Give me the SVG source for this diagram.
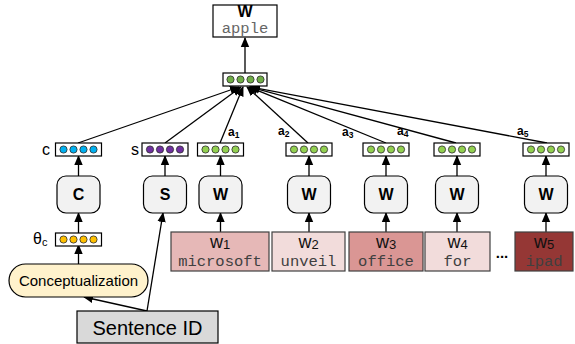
<svg xmlns="http://www.w3.org/2000/svg" xmlns:xlink="http://www.w3.org/1999/xlink" width="575" height="344" viewBox="0 0 575 344">
<style>
  .sans{font-family:"Liberation Sans",Arial,sans-serif;}
  .mono{font-family:"Liberation Mono","Courier New",monospace;}
  .vbox{fill:#fff;stroke:#000;stroke-width:1.2;}
  .dot{stroke:#2b2b2b;stroke-width:0.8;}
  .rbox{fill:#f2f2f2;stroke:#000;stroke-width:1.2;}
  .wbox{stroke:#404040;stroke-width:1.2;}
  .conn{stroke:#000;stroke-width:1.3;fill:none;}
  .lab{font-family:"Liberation Sans",Arial,sans-serif;font-size:16px;fill:#000;}
  .alab{font-family:"Liberation Sans",Arial,sans-serif;font-size:12px;font-weight:bold;fill:#000;}
  .bold{font-family:"Liberation Sans",Arial,sans-serif;font-size:16px;font-weight:bold;fill:#000;text-anchor:middle;}
  .wt{font-family:"Liberation Sans",Arial,sans-serif;font-size:18px;fill:#111;text-anchor:middle;}
  .wm{font-family:"Liberation Mono","Courier New",monospace;font-size:15.5px;fill:#404040;text-anchor:middle;}
</style>
<defs>
  <marker id="ah" markerUnits="userSpaceOnUse" markerWidth="10" markerHeight="10" viewBox="0 0 10 10" refX="9" refY="5" orient="auto">
    <path d="M0,0.8 L10,5 L0,9.2 Z" fill="#000"/>
  </marker>
  <g id="vec">
    <rect class="vbox" x="0" y="0" width="46" height="13"/>
    <circle class="dot" cx="8" cy="6.5" r="3.6"/>
    <circle class="dot" cx="18" cy="6.5" r="3.6"/>
    <circle class="dot" cx="28" cy="6.5" r="3.6"/>
    <circle class="dot" cx="38" cy="6.5" r="3.6"/>
  </g>
  <g id="rb">
    <rect class="rbox" x="0" y="0" width="43" height="37" rx="9" ry="9"/>
  </g>
</defs>

<g id="connectors">
  <line class="conn" x1="245" y1="73" x2="245" y2="38" marker-end="url(#ah)"/>
  <line class="conn" x1="78" y1="143" x2="239" y2="87" marker-end="url(#ah)"/>
  <line class="conn" x1="165" y1="143" x2="241" y2="87" marker-end="url(#ah)"/>
  <line class="conn" x1="220" y1="143" x2="243" y2="87" marker-end="url(#ah)"/>
  <line class="conn" x1="308" y1="143" x2="247" y2="87" marker-end="url(#ah)"/>
  <line class="conn" x1="386" y1="143" x2="249" y2="87" marker-end="url(#ah)"/>
  <line class="conn" x1="456" y1="143" x2="250" y2="87" marker-end="url(#ah)"/>
  <line class="conn" x1="547" y1="143" x2="251" y2="87" marker-end="url(#ah)"/>
  <line class="conn" x1="78.5" y1="176" x2="78.5" y2="156" marker-end="url(#ah)"/>
  <line class="conn" x1="165" y1="176" x2="165" y2="156" marker-end="url(#ah)"/>
  <line class="conn" x1="220.5" y1="176" x2="220.5" y2="156" marker-end="url(#ah)"/>
  <line class="conn" x1="309" y1="176" x2="309" y2="156" marker-end="url(#ah)"/>
  <line class="conn" x1="386" y1="176" x2="386" y2="156" marker-end="url(#ah)"/>
  <line class="conn" x1="457" y1="176" x2="457" y2="156" marker-end="url(#ah)"/>
  <line class="conn" x1="546" y1="176" x2="546" y2="156" marker-end="url(#ah)"/>
  <line class="conn" x1="78.5" y1="233" x2="78.5" y2="213" marker-end="url(#ah)"/>
  <line class="conn" x1="78.5" y1="264" x2="78.5" y2="245" marker-end="url(#ah)"/>
  <line class="conn" x1="220.5" y1="232" x2="220.5" y2="213" marker-end="url(#ah)"/>
  <line class="conn" x1="309" y1="232" x2="309" y2="213" marker-end="url(#ah)"/>
  <line class="conn" x1="386" y1="232" x2="386" y2="213" marker-end="url(#ah)"/>
  <line class="conn" x1="457" y1="232" x2="457" y2="213" marker-end="url(#ah)"/>
  <line class="conn" x1="546" y1="232" x2="546" y2="213" marker-end="url(#ah)"/>
  <line class="conn" x1="147" y1="311" x2="84" y2="297" marker-end="url(#ah)"/>
  <line class="conn" x1="147" y1="311" x2="163" y2="213" marker-end="url(#ah)"/>
</g>

<g id="target">
  <rect x="213" y="5" width="64" height="32" fill="#fff" stroke="#000" stroke-width="1.2"/>
  <text class="bold" x="245" y="17" font-size="14">W</text>
  <text class="mono" x="245" y="33" font-size="15.5" fill="#666" text-anchor="middle">apple</text>
</g>

<g id="pool">
  <rect class="vbox" x="223" y="73" width="44" height="13"/>
  <circle class="dot" cx="230.5" cy="79.5" r="3.6" fill="#70ad47"/>
  <circle class="dot" cx="240.5" cy="79.5" r="3.6" fill="#70ad47"/>
  <circle class="dot" cx="250.5" cy="79.5" r="3.6" fill="#70ad47"/>
  <circle class="dot" cx="260.5" cy="79.5" r="3.6" fill="#70ad47"/>
</g>

<g id="vec-c"><use xlink:href="#vec" href="#vec" x="55.5" y="143" fill="#00b0f0"/><text class="lab" x="42" y="155">c</text></g>
<g id="vec-s"><use xlink:href="#vec" href="#vec" x="142" y="143" fill="#7030a0"/><text class="lab" x="131" y="155">s</text></g>
<g id="vec-a1"><use xlink:href="#vec" href="#vec" x="197.5" y="143" fill="#92d050"/><text class="alab" x="228" y="136">a<tspan font-size="8.5" dy="2">1</tspan></text></g>
<g id="vec-a2"><use xlink:href="#vec" href="#vec" x="286" y="143" fill="#92d050"/><text class="alab" x="278" y="135">a<tspan font-size="8.5" dy="2">2</tspan></text></g>
<g id="vec-a3"><use xlink:href="#vec" href="#vec" x="363" y="143" fill="#92d050"/><text class="alab" x="342" y="136">a<tspan font-size="8.5" dy="2">3</tspan></text></g>
<g id="vec-a4"><use xlink:href="#vec" href="#vec" x="434" y="143" fill="#92d050"/><text class="alab" x="397" y="135">a<tspan font-size="8.5" dy="2">4</tspan></text></g>
<g id="vec-a5"><use xlink:href="#vec" href="#vec" x="523" y="143" fill="#92d050"/><text class="alab" x="517" y="135">a<tspan font-size="8.5" dy="2">5</tspan></text></g>

<g id="box-C"><use xlink:href="#rb" href="#rb" x="57" y="176"/><text class="bold" x="78.5" y="200">C</text></g>
<g id="box-S"><use xlink:href="#rb" href="#rb" x="143.5" y="176"/><text class="bold" x="165" y="200">S</text></g>
<g id="box-W1"><use xlink:href="#rb" href="#rb" x="199" y="176"/><text class="bold" x="220.5" y="200">W</text></g>
<g id="box-W2"><use xlink:href="#rb" href="#rb" x="287.5" y="176"/><text class="bold" x="309" y="200">W</text></g>
<g id="box-W3"><use xlink:href="#rb" href="#rb" x="364.5" y="176"/><text class="bold" x="386" y="200">W</text></g>
<g id="box-W4"><use xlink:href="#rb" href="#rb" x="435.5" y="176"/><text class="bold" x="457" y="200">W</text></g>
<g id="box-W5"><use xlink:href="#rb" href="#rb" x="524.5" y="176"/><text class="bold" x="546" y="200">W</text></g>

<g id="vec-theta"><use xlink:href="#vec" href="#vec" x="55.5" y="233" fill="#ffc000"/><text class="lab" x="33" y="244" font-size="17">θ<tspan font-size="11" dy="2">c</tspan></text></g>

<g id="concept">
  <rect x="9" y="264" width="139" height="33" rx="16.5" ry="16.5" fill="#fff2cc" stroke="#000" stroke-width="1.2"/>
  <text class="sans" x="78.5" y="286" font-size="15" text-anchor="middle">Conceptualization</text>
</g>

<g id="sentence">
  <rect x="77" y="311" width="141" height="32" fill="#d9d9d9" stroke="#000" stroke-width="1.2"/>
  <text class="sans" x="147.5" y="335" font-size="20" text-anchor="middle">Sentence ID</text>
</g>

<g id="word1"><rect class="wbox" x="171" y="232" width="98" height="39" fill="#e6b8b7"/><text class="wt" x="220" y="248">w<tspan font-size="13" dy="1">1</tspan></text><text class="wm" x="220" y="266">microsoft</text></g>
<g id="word2"><rect class="wbox" x="272" y="232" width="73" height="39" fill="#f2dcdb"/><text class="wt" x="308.5" y="248">w<tspan font-size="13" dy="1">2</tspan></text><text class="wm" x="308.5" y="266">unveil</text></g>
<g id="word3"><rect class="wbox" x="349" y="232" width="74" height="39" fill="#da9694"/><text class="wt" x="386" y="248">w<tspan font-size="13" dy="1">3</tspan></text><text class="wm" x="386" y="266">office</text></g>
<g id="word4"><rect class="wbox" x="425" y="232" width="65" height="39" fill="#f2dcdb"/><text class="wt" x="457.5" y="248">w<tspan font-size="13" dy="1">4</tspan></text><text class="wm" x="457.5" y="266">for</text></g>
<text class="sans" x="502" y="258" font-size="15" font-weight="bold" text-anchor="middle">...</text>
<g id="word5"><rect class="wbox" x="515" y="232" width="58" height="39" fill="#953735"/><text class="wt" x="544" y="248">w<tspan font-size="13" dy="1">5</tspan></text><text class="wm" x="544" y="266" fill="#3a1a18">ipad</text></g>
</svg>
